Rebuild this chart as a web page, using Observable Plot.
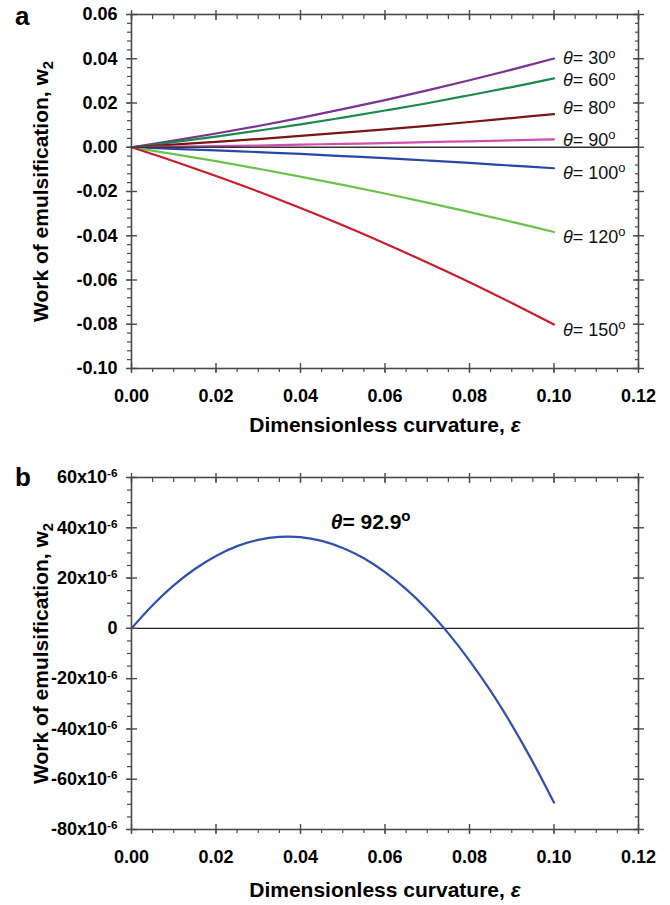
<!DOCTYPE html>
<html><head><meta charset="utf-8">
<script src="https://cdn.jsdelivr.net/npm/d3@7"></script>
<script src="https://cdn.jsdelivr.net/npm/@observablehq/plot@0.6"></script>
<style>
body{margin:0;background:#fff;}
#wrap{position:relative;width:670px;height:905px;font-family:"Liberation Sans",Arial,sans-serif;overflow:hidden;}
.panel{position:absolute;left:0;}
.letter{position:absolute;font-weight:bold;font-size:26px;line-height:1;color:#000;}
</style></head><body>
<div id="wrap">
 <div id="pa" class="panel" style="top:0"></div>
 <div id="pb" class="panel" style="top:450px"></div>
 <div class="letter" style="left:15px;top:3px">a</div>
 <div class="letter" style="left:15px;top:464px">b</div>
</div>
<script>
// ---------- Panel a data: work of emulsification w2 vs curvature eps ----------
const eps = [0, 0.01, 0.02, 0.03, 0.04, 0.05, 0.06, 0.07, 0.08, 0.09, 0.10];
const angles = ["30", "60", "80", "90", "100", "120", "150"];
const w30  = [0, 0.0030, 0.0062, 0.0096, 0.0133, 0.0172, 0.0213, 0.0257, 0.0303, 0.0351, 0.0401];
const w60  = [0, 0.0023, 0.0048, 0.0075, 0.0103, 0.0134, 0.0166, 0.0199, 0.0235, 0.0272, 0.0311];
const w80  = [0, 0.0012, 0.0024, 0.0037, 0.0051, 0.0066, 0.0081, 0.0097, 0.0114, 0.0132, 0.0150];
const w90  = [0, 0.0003, 0.0005, 0.0008, 0.0012, 0.0015, 0.0019, 0.0023, 0.0027, 0.0031, 0.0036];
const w100 = [0, -0.0007, -0.0014, -0.0022, -0.0030, -0.0040, -0.0049, -0.0060, -0.0071, -0.0083, -0.0095];
const w120 = [0, -0.0031, -0.0063, -0.0097, -0.0133, -0.0170, -0.0209, -0.0250, -0.0293, -0.0337, -0.0383];
const w150 = [0, -0.0063, -0.0130, -0.0200, -0.0275, -0.0353, -0.0435, -0.0521, -0.0610, -0.0704, -0.0801];
const colorsA = ["#7b3294", "#1b8a4b", "#7a1515", "#cf4fb0", "#2848a8", "#6cc24a", "#c81e2a"];
const labelYA = [0.0401, 0.0302, 0.0176, 0.0032, -0.0117, -0.0406, -0.0826];

// ---------- Panel b data (w2 in units of 1e-6), theta = 92.9 ----------
const epsB = [0, 0.005, 0.01, 0.015, 0.02, 0.025, 0.03, 0.035, 0.04, 0.045, 0.05,
              0.055, 0.06, 0.065, 0.07, 0.075, 0.08, 0.085, 0.09, 0.095, 0.10];
const wB = [0, 9.2, 17.1, 23.6, 28.8, 32.7, 35.2, 36.4, 36.3, 34.8, 32.0,
            27.9, 22.4, 15.6, 7.5, -2.0, -12.8, -24.9, -38.4, -53.2, -69.3];
const labelB = {angle: "92.9", x: 0.0566, y: 42.3};

// ---------- ticks ----------
const xMajor = [0, 0.02, 0.04, 0.06, 0.08, 0.10, 0.12];
const xMinor = d3.range(0, 0.1201, 0.005);
const yMajorA = [-0.10, -0.08, -0.06, -0.04, -0.02, 0, 0.02, 0.04, 0.06];
const yMinorA = d3.range(-0.10, 0.0601, 0.004);
const yMajorB = [-80, -60, -40, -20, 0, 20, 40, 60];
const yMinorB = d3.range(-80, 60.1, 5);

const seriesA = [w30, w60, w80, w90, w100, w120, w150];
const FONT = "Liberation Sans, Arial, sans-serif";
const AX = "#4a4a4a";

function frameAxes(yMajor, yMinor, yFmt) {
  return [
    Plot.frame({stroke: AX, strokeWidth: 1.6}),
    // bottom
    Plot.axisX(xMajor, {anchor: "bottom", tickSize: 5, tickPadding: 16, tickFormat: d => d.toFixed(2), label: null, stroke: AX, strokeWidth: 1.4, fill: "#000", fontSize: 18, fontWeight: "bold"}),
    Plot.axisX(xMajor, {anchor: "bottom", tickSize: -5, fill: "none", label: null, stroke: AX, strokeWidth: 1.4}),
    Plot.axisX(xMinor, {anchor: "bottom", tickSize: 4, fill: "none", label: null, stroke: AX, strokeWidth: 1.2}),
    // top
    Plot.axisX(xMajor, {anchor: "top", tickSize: 5, fill: "none", label: null, stroke: AX, strokeWidth: 1.4}),
    Plot.axisX(xMajor, {anchor: "top", tickSize: -5, fill: "none", label: null, stroke: AX, strokeWidth: 1.4}),
    Plot.axisX(xMinor, {anchor: "top", tickSize: -4, fill: "none", label: null, stroke: AX, strokeWidth: 1.2}),
    // left
    Plot.axisY(yMajor, {anchor: "left", tickSize: 5, tickPadding: 9, tickFormat: yFmt, label: null, stroke: AX, strokeWidth: 1.4, fill: "#000", fontSize: 18, fontWeight: "bold"}),
    Plot.axisY(yMajor, {anchor: "left", tickSize: -6, fill: "none", label: null, stroke: AX, strokeWidth: 1.4}),
    Plot.axisY(yMinor, {anchor: "left", tickSize: 4, fill: "none", label: null, stroke: AX, strokeWidth: 1.2}),
    // right
    Plot.axisY(yMajor, {anchor: "right", tickSize: 5, fill: "none", label: null, stroke: AX, strokeWidth: 1.4}),
    Plot.axisY(yMajor, {anchor: "right", tickSize: -6, fill: "none", label: null, stroke: AX, strokeWidth: 1.4}),
    Plot.axisY(yMinor, {anchor: "right", tickSize: -4, fill: "none", label: null, stroke: AX, strokeWidth: 1.2})
  ];
}

function titles(dyX) {
  return [
    Plot.text(["Work of emulsification, "], {text: d => d, frameAnchor: "left", dx: -90, rotate: -90, textAnchor: "middle", lineAnchor: "middle", fontSize: 21, fontWeight: "bold", fill: "#000", ariaDescription: "ytitle"}),
    Plot.text(["Dimensionless curvature, "], {text: d => d, frameAnchor: "bottom", dy: dyX, textAnchor: "middle", lineAnchor: "middle", fontSize: 21, fontWeight: "bold", fill: "#000", ariaDescription: "xtitle"})
  ];
}

// ---------- Panel a ----------
const lineMarks = seriesA.map((vals, i) =>
  Plot.line(eps.map((e, j) => ({eps: e, w: vals[j]})), {x: "eps", y: "w", stroke: colorsA[i], strokeWidth: 2.2, curve: "catmull-rom"}));
const labelRowsA = angles.map((a, i) => ({a, x: eps[eps.length - 1], y: labelYA[i]}));

const plotA = Plot.plot({
  width: 670, height: 450,
  marginLeft: 131, marginRight: 32, marginTop: 14, marginBottom: 82,
  x: {domain: [0, 0.12], axis: null, label: null},
  y: {domain: [-0.10, 0.06], axis: null, label: null},
  style: {fontFamily: FONT, background: "#fff", color: "#000", overflow: "visible"},
  marks: [
    ...lineMarks,
    Plot.ruleY([0], {stroke: "#333", strokeWidth: 1.6}),
    Plot.text(labelRowsA, {x: "x", y: "y", text: "a", dx: 9, textAnchor: "start", fontSize: 18, fill: "#111", ariaDescription: "anglelabels"}),
    ...frameAxes(yMajorA, yMinorA, d => d.toFixed(2)),
    ...titles(57)
  ]
});

// ---------- Panel b ----------
const plotB = Plot.plot({
  width: 670, height: 455,
  marginLeft: 131, marginRight: 32, marginTop: 27, marginBottom: 76,
  x: {domain: [0, 0.12], axis: null, label: null},
  y: {domain: [-80, 60], axis: null, label: null},
  style: {fontFamily: FONT, background: "#fff", color: "#000", overflow: "visible"},
  marks: [
    Plot.ruleY([0], {stroke: "#222", strokeWidth: 1.2}),
    Plot.line(epsB.map((e, j) => ({eps: e, w: wB[j]})), {x: "eps", y: "w", stroke: "#3050b0", strokeWidth: 2.2, curve: "catmull-rom"}),
    Plot.text([labelB], {x: "x", y: "y", text: "angle", textAnchor: "middle", fontSize: 21, fontWeight: "bold", fill: "#000", ariaDescription: "anglelabels"}),
    ...frameAxes(yMajorB, yMinorB, d => d === 0 ? "0" : `${d}x10`),
    ...titles(61)
  ]
});

document.getElementById("pa").appendChild(plotA);
document.getElementById("pb").appendChild(plotB);

// ---------- rich text (italic theta, superscripts, subscripts) ----------
function groupTexts(svg, desc) {
  return d3.select(svg).selectAll("g").filter(function () {
    return this.getAttribute("aria-description") === desc;
  }).selectAll("text");
}
function decorate(svg) {
  groupTexts(svg, "anglelabels").each(function () {
    const t = d3.select(this), v = t.text();
    t.text(null);
    t.append("tspan").attr("font-style", "italic").text("\u03B8");
    t.append("tspan").text("= " + v);
    t.append("tspan").attr("dy", "-0.5em").attr("font-size", "72%").text("o");
  });
  groupTexts(svg, "ytitle").each(function () {
    const t = d3.select(this);
    t.append("tspan").text("w");
    t.append("tspan").attr("dy", "0.3em").attr("font-size", "70%").text("2");
  });
  groupTexts(svg, "xtitle").each(function () {
    d3.select(this).append("tspan").attr("font-style", "italic").text("\u03B5");
  });
  d3.select(svg).selectAll("text").each(function () {
    const t = d3.select(this);
    if (this.childElementCount === 0 && /x10$/.test(t.text())) {
      t.append("tspan").attr("dy", "-0.5em").attr("font-size", "65%").text("-6");
    }
  });
}
decorate(plotA);
decorate(plotB);
</script>
</body></html>
